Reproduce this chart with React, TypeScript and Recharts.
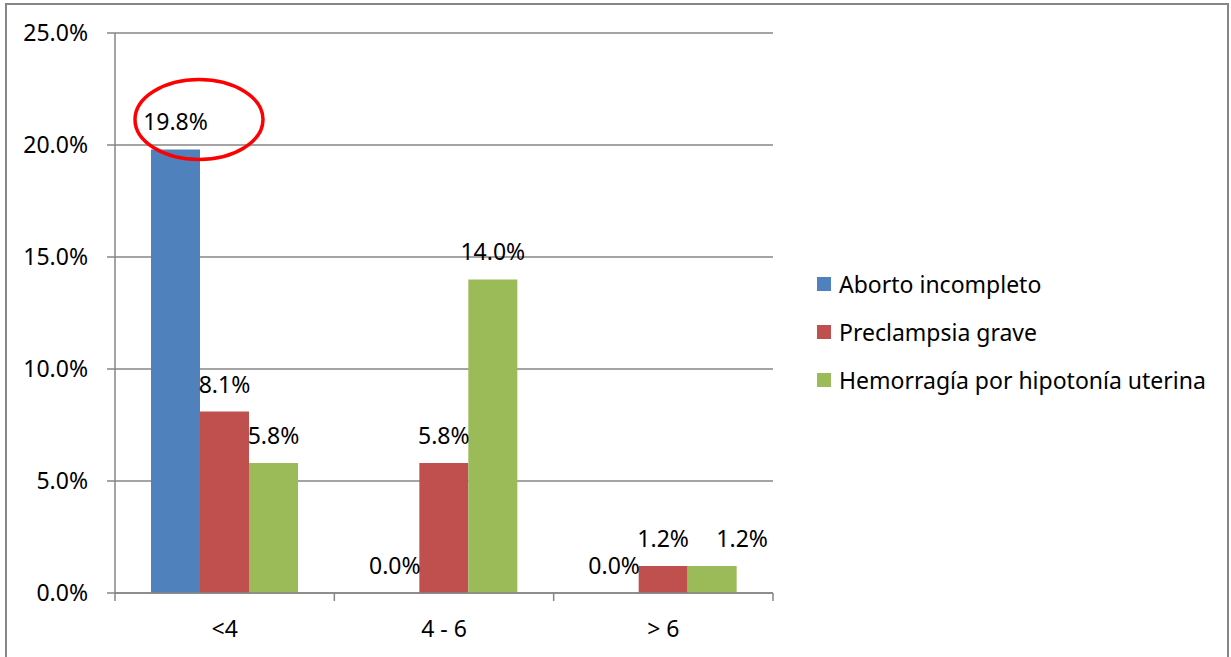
import { BarChart, Bar, XAxis, YAxis, CartesianGrid, Legend, LabelList } from 'recharts';

const categories = ['<4', '4 - 6', '> 6'];
const abortoIncompleto = [19.8, 0, 0];
const preclampsiaGrave = [8.1, 5.8, 1.2];
const hemorragiaHipotonia = [5.8, 14.0, 1.2];
const yTicks = [0, 5, 10, 15, 20, 25];

const seriesList = [
  { key: 'aborto', name: 'Aborto incompleto', color: '#4F81BD' },
  { key: 'preclampsia', name: 'Preclampsia grave', color: '#C0504D' },
  { key: 'hemorragia', name: 'Hemorragía por hipotonía uterina', color: '#9BBB59' },
];

// the value circled in red in the original
const highlight = { series: 'aborto', category: '<4' };
// label moved sideways by hand in the original (px)
const labelNudge: Record<string, number> = { 'hemorragia|> 6': 30 };

const data = categories.map((c, i) => ({
  cat: c,
  aborto: abortoIncompleto[i],
  preclampsia: preclampsiaGrave[i],
  hemorragia: hemorragiaHipotonia[i],
}));

const FONT = '"Noto Sans", "Open Sans", sans-serif';
const FS = 23;
const GRID = '#868686';
const PLOT_LEFT = 115;

const fmt = (v: number) => `${v.toFixed(1)}%`;

function makeLabel(seriesKey: string) {
  return (props: any) => {
    const { x, y, width, value, index } = props;
    const nudge = labelNudge[`${seriesKey}|${categories[index]}`] || 0;
    const cx = Number(x) + Number(width) / 2 + nudge;
    const base = Number(y) - 19;
    const circled = seriesKey === highlight.series && categories[index] === highlight.category;
    return (
      <g>
        <text x={cx} y={base} textAnchor="middle" fontSize={FS} fontFamily={FONT} fill="#000">
          {fmt(Number(value))}
        </text>
        {circled && (
          <ellipse cx={cx + 23.5} cy={base - 11} rx={64} ry={40} fill="none" stroke="#FF0000" strokeWidth={3.5} />
        )}
      </g>
    );
  };
}

function XTick(props: any) {
  const { x, y, payload, index } = props;
  const half = (x - PLOT_LEFT) / (2 * index + 1);
  const left = x - half;
  const last = index === categories.length - 1;
  return (
    <g>
      <line x1={left} y1={y} x2={left} y2={y + 8} stroke={GRID} strokeWidth={1.5} />
      {last && <line x1={x + half} y1={y} x2={x + half} y2={y + 8} stroke={GRID} strokeWidth={1.5} />}
      <text x={x} y={y + 35} textAnchor="middle" dominantBaseline="central" fontSize={FS} fontFamily={FONT} fill="#000">
        {payload.value}
      </text>
    </g>
  );
}

function LegendBox() {
  return (
    <div style={{ fontFamily: FONT, fontSize: FS, color: '#000' }}>
      {seriesList.map((s) => (
        <div key={s.key} style={{ display: 'flex', alignItems: 'center', height: 48 }}>
          <div style={{ width: 14, height: 14, background: s.color, marginRight: 8 }} />
          <span style={{ whiteSpace: 'nowrap' }}>{s.name}</span>
        </div>
      ))}
    </div>
  );
}

// zero bars keep a hairline so their 0.0% label is still drawn
const minSize = (value: any) => (Number(value) === 0 ? 0.01 : 0);

export default function App() {
  return (
    <div style={{ position: 'absolute', left: 0, top: 0, width: 1231, height: 657, overflow: 'hidden', background: '#fff' }}>
      <div
        style={{
          position: 'absolute',
          left: 5,
          top: 3,
          width: 1224,
          height: 700,
          border: `2px solid ${GRID}`,
          boxSizing: 'border-box',
        }}
      />
      <div style={{ position: 'absolute', left: 0, top: 0 }}>
        <BarChart
          width={1231}
          height={657}
          data={data}
          margin={{ top: 33, right: 458, bottom: 0, left: 0 }}
          barCategoryGap={36}
          barGap={0}
        >
          <CartesianGrid vertical={false} stroke={GRID} strokeWidth={1.5} />
          <XAxis
            dataKey="cat"
            height={64}
            axisLine={{ stroke: GRID, strokeWidth: 1.5 }}
            tickLine={false}
            tickSize={0}
            tickMargin={0}
            tick={<XTick />}
            interval={0}
          />
          <YAxis
            width={115}
            domain={[0, 25]}
            ticks={yTicks}
            interval={0}
            tickFormatter={fmt}
            axisLine={{ stroke: GRID, strokeWidth: 1.5 }}
            tickLine={{ stroke: GRID, strokeWidth: 1.5 }}
            tickSize={8}
            tickMargin={19}
            tick={{ fontSize: FS, fontFamily: FONT, fill: '#000' }}
          />
          <Legend
            layout="horizontal"
            align="center"
            verticalAlign="middle"
            content={<LegendBox />}
            wrapperStyle={{ left: 817, top: 260, width: 414 }}
          />
          {seriesList.map((s) => (
            <Bar key={s.key} dataKey={s.key} name={s.name} fill={s.color} minPointSize={minSize} isAnimationActive={false}>
              <LabelList dataKey={s.key} content={makeLabel(s.key)} />
            </Bar>
          ))}
        </BarChart>
      </div>
    </div>
  );
}
